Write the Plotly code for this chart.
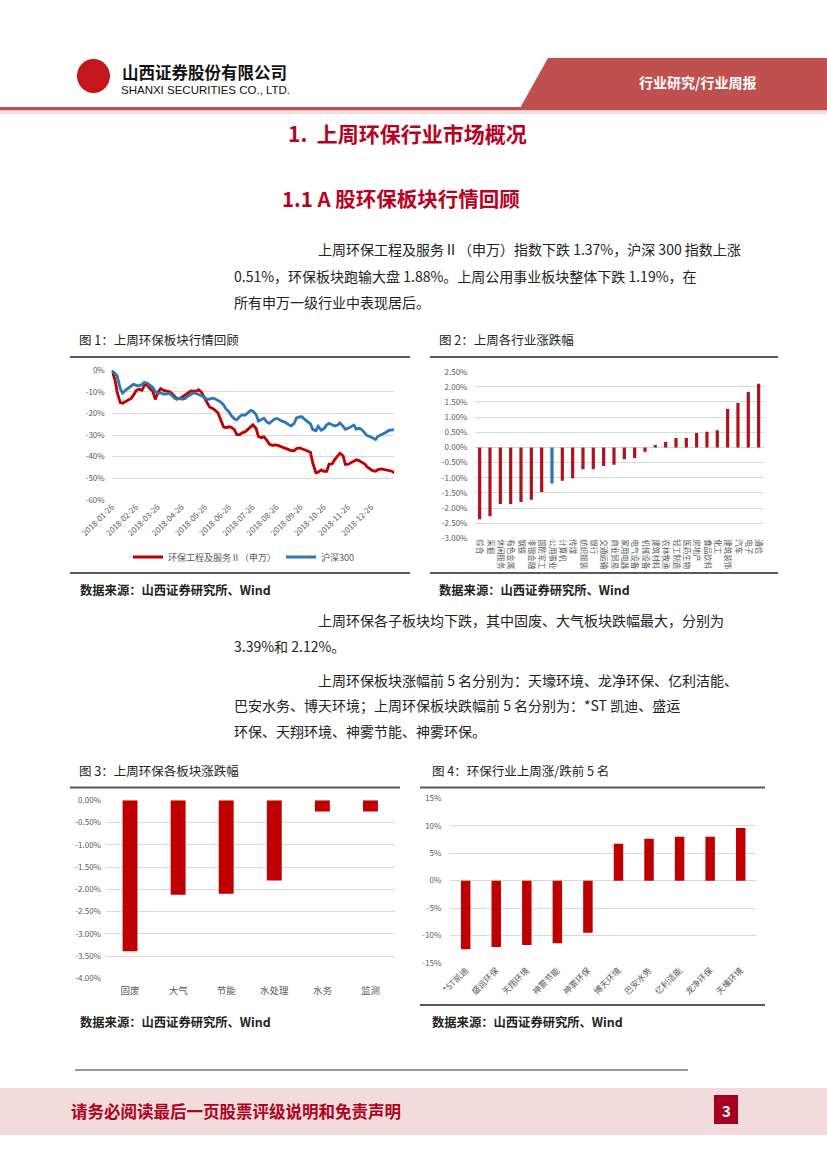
import plotly.graph_objects as go
import pandas as pd

W, H = 827, 1169
def X(p): return p / W
def Y(p): return 1 - p / H

# ---------------- Chart 1 data (semi-weekly samples) ----------------
line_dates = sorted(pd.date_range('2018-01-26', '2019-01-25', freq='W-FRI').union(
    pd.date_range('2018-01-26', '2019-01-25', freq='W-TUE')))
env_index = [0, -4, -10, -15, -15.3, -14.4, -14, -13, -11.5, -9.2, -8.8, -9.3, -7, -6.8, -8.5, -9.7,
             -13.5, -10, -8.5, -9.3, -9.5, -9.8, -10.6, -12.4, -13.2, -13, -12.3, -11.5, -10.6, -9.6,
             -9.7, -9.7, -9, -10.3, -12.5, -15.5, -17, -17.7, -18.4, -19.8, -23, -26.2, -26.6, -26.2,
             -26.4, -27.5, -29.8, -29.8, -29, -28.5, -27.5, -26, -25.3,
             -27, -30.7, -31.3, -30.8, -32.5, -34.2, -34.9, -34.6, -34.8, -35.3, -35.8, -36.3, -36.8,
             -37.2, -37.3, -36.3, -36, -36.4, -37, -37.6, -38, -43, -47.5, -47.2, -46.2, -46.8, -46.8,
             -43.5, -43.4, -41.5, -39.6, -38.4, -39.6, -43.7, -43.5, -43, -42, -41.5, -42, -42.5, -43.5,
             -44.8, -46, -46.5, -46.8, -46, -45.7, -45.9, -46, -46.4, -46.8, -47.6]
hs300 = [0, -1.5, -2.5, -8.5, -10.5, -9.2, -8.3, -7.4, -6.5, -7, -7.2, -6.6, -5.6, -6, -6.8, -8,
         -9.8, -10.8, -10.5, -11, -11, -10.6, -11.5, -13, -13.4, -13, -13.4, -13, -12, -11.3, -10.5,
         -10.8, -11.2, -11.8, -12.4, -13.6, -13.3, -12.9, -13.2, -13.8, -14.6, -16, -17.8, -19.2, -21,
         -22.5, -23, -21.4, -20.7, -20.8, -20, -18.6, -19,
         -20.5, -23.5, -22.7, -22.2, -24, -24.6, -23.4, -22.5, -22.4, -23.2, -23.8, -24.2, -25.2,
         -25.8, -24.6, -22.1, -21.6, -21.5, -22.9, -23.8, -24.8, -27.5, -28, -26, -27.8, -27.2, -25.3,
         -24.6, -25.2, -25.8, -25.4, -24.4, -26, -27.4, -26.8, -26.3, -25.4, -27.3, -26.9, -27.5,
         -29.4, -30.3, -30.8, -31.5, -32.1, -30.6, -30, -29.4, -28.6, -27.8, -27.8, -27.5]
c1_ticks = ['2018-01-26', '2018-02-26', '2018-03-26', '2018-04-26', '2018-05-26', '2018-06-26',
            '2018-07-26', '2018-08-26', '2018-09-26', '2018-10-26', '2018-11-26', '2018-12-26']
c1_yticks = [0, -10, -20, -30, -40, -50, -60]

# ---------------- Chart 2 data ----------------
ind_names = ['综合', '采掘', '休闲服务', '有色金属', '钢铁', '非银金融', '国防军工', '公用事业',
             '计算机', '传媒', '纺织服装', '银行', '交通运输', '商业贸易', '家用电器', '电气设备',
             '机械设备', '建筑材料', '农林牧渔', '轻工制造', '医药生物', '房地产', '食品饮料', '化工',
             '建筑装饰', '汽车', '电子', '通信']
ind_chg = [-2.37, -2.27, -1.87, -1.87, -1.80, -1.73, -1.47, -1.19, -1.10, -1.02, -0.72, -0.72,
           -0.61, -0.57, -0.39, -0.35, -0.14, 0.08, 0.18, 0.31, 0.31, 0.48, 0.52, 0.57, 1.27, 1.47,
           1.83, 2.10]
c2_yticks = [2.5, 2.0, 1.5, 1.0, 0.5, 0.0, -0.5, -1.0, -1.5, -2.0, -2.5, -3.0]

# ---------------- Chart 3 data ----------------
sub_names = ['固废', '大气', '节能', '水处理', '水务', '监测']
sub_chg = [-3.39, -2.12, -2.10, -1.80, -0.25, -0.25]
c3_yticks = [0, -0.5, -1.0, -1.5, -2.0, -2.5, -3.0, -3.5, -4.0]

# ---------------- Chart 4 data ----------------
stock_names = ['*ST凯迪', '盛运环保', '天翔环境', '神雾节能', '神雾环保',
               '博天环境', '巴安水务', '亿利洁能', '龙净环保', '天壕环境']
stock_chg = [-12.5, -12.1, -11.7, -11.4, -9.5, 6.7, 7.65, 8.0, 8.0, 9.6]
c4_yticks = [15, 10, 5, 0, -5, -10, -15]

RED = '#C00000'
BLUE = '#2E75B6'
GRID = '#D9D9D9'
TICK = '#595959'
FONT = 'Noto Sans CJK SC'

fig = go.Figure()

fig.add_trace(go.Scatter(x=line_dates, y=env_index, mode='lines', name='环保工程及服务Ⅱ（申万）',
                         line=dict(color=RED, width=2.8), xaxis='x', yaxis='y', cliponaxis=False))
fig.add_trace(go.Scatter(x=line_dates, y=hs300, mode='lines', name='沪深300',
                         line=dict(color=BLUE, width=2.8), xaxis='x', yaxis='y', cliponaxis=False))

fig.add_trace(go.Bar(x=ind_names, y=ind_chg, xaxis='x2', yaxis='y2', showlegend=False,
                     marker=dict(color=[BLUE if n == '公用事业' else '#B0121B' for n in ind_names],
                                 line=dict(width=0))))
fig.add_trace(go.Bar(x=sub_names, y=sub_chg, xaxis='x3', yaxis='y3', showlegend=False,
                     marker=dict(color=RED, line=dict(width=0))))
fig.add_trace(go.Bar(x=stock_names, y=stock_chg, xaxis='x4', yaxis='y4', showlegend=False,
                     marker=dict(color=RED, line=dict(width=0))))

axis_common = dict(showline=False, zeroline=False, ticks='', automargin=False,
                   tickfont=dict(size=8, color=TICK, family=FONT))

layout = dict(
    template='none',
    width=W, height=H, margin=dict(l=0, r=0, t=0, b=0, pad=0, autoexpand=False),
    paper_bgcolor='white', plot_bgcolor='rgba(0,0,0,0)',
    font=dict(family=FONT, color='#222222'),
    bargap=0.69,
    showlegend=True,
    legend=dict(orientation='h', x=X(128), y=Y(557), xanchor='left', yanchor='middle',
                font=dict(size=9, color=TICK, family=FONT), bgcolor='rgba(0,0,0,0)',
                itemwidth=30, tracegroupgap=0),
    xaxis=dict(domain=[X(111.7), X(394.3)], type='date', range=['2018-01-26', '2019-01-25'],
               tickvals=c1_ticks, ticktext=c1_ticks, tickangle=-45, showgrid=False, anchor='y',
               **axis_common),
    yaxis=dict(domain=[Y(499.7), Y(370.3)], range=[-60, 0], tickvals=c1_yticks,
               ticktext=[f'{v}%' for v in c1_yticks], showgrid=True, gridcolor=GRID, gridwidth=1,
               anchor='x', ticklabelstandoff=6, **axis_common),
    xaxis2=dict(domain=[X(474.5), X(763.8)], type='category', tickangle=90, showgrid=False,
                anchor='y2', showline=False, zeroline=False, ticks='', automargin=False,
                tickfont=dict(size=7.5, color=TICK, family=FONT)),
    yaxis2=dict(domain=[Y(538.3), Y(371.7)], range=[-3.0, 2.5], tickvals=c2_yticks,
                ticktext=[f'{v:.2f}%' for v in c2_yticks], showgrid=True, gridcolor=GRID,
                anchor='x2', ticklabelstandoff=6, **axis_common),
    xaxis3=dict(domain=[X(106), X(394.5)], type='category', showgrid=False, anchor='y3',
                showline=False, zeroline=False, ticks='', automargin=False, ticklabelstandoff=5,
                tickfont=dict(size=9.5, color=TICK, family=FONT)),
    yaxis3=dict(domain=[Y(978.3), Y(800.3)], range=[-4.0, 0], tickvals=c3_yticks,
                ticktext=[f'{v:.2f}%' for v in c3_yticks], showgrid=True, gridcolor=GRID,
                anchor='x3', ticklabelstandoff=4, **axis_common),
    xaxis4=dict(domain=[X(450.4), X(756)], type='category', tickangle=-45, showgrid=False,
                anchor='y4', showline=False, zeroline=False, ticks='', automargin=False,
                tickfont=dict(size=8.5, color=TICK, family=FONT)),
    yaxis4=dict(domain=[Y(963), Y(798.3)], range=[-15, 15], tickvals=c4_yticks,
                ticktext=[f'{v}%' for v in c4_yticks], showgrid=True, gridcolor=GRID,
                anchor='x4', ticklabelstandoff=8, **axis_common),
)
fig.update_layout(**layout)

shapes = []
def rect(x0, y0, x1, y1, color, line=None):
    shapes.append(dict(type='rect', xref='paper', yref='paper', x0=X(x0), x1=X(x1), y0=Y(y1), y1=Y(y0),
                       fillcolor=color, line=dict(width=0) if line is None else line, layer='below'))
def hline(x0, x1, y, color, width):
    shapes.append(dict(type='line', xref='paper', yref='paper', x0=X(x0), x1=X(x1), y0=Y(y), y1=Y(y),
                       line=dict(color=color, width=width)))

# header band
shapes.append(dict(type='path', xref='paper', yref='paper', fillcolor='#C0504F', line=dict(width=0),
                   path=f'M {X(548)},{Y(58)} L {X(827)},{Y(58)} L {X(827)},{Y(108)} L {X(520)},{Y(108)} Z'))
rect(0, 107, 827, 110.5, '#C0504F')
rect(0, 110.5, 827, 114, '#F2DCDB')
# logo
shapes.append(dict(type='circle', xref='paper', yref='paper', x0=X(77), x1=X(110), y0=Y(93), y1=Y(59),
                   fillcolor='#C4161C', line=dict(width=0)))
rect(83, 64, 104, 89, 'white')
rect(86, 67, 101, 86, '#C4161C')
rect(89, 71, 98, 82, 'white')
rect(91.5, 74, 95.5, 79, '#C4161C')
# chart frames
hline(70, 410, 357, '#595959', 2)
hline(70, 410, 573, '#595959', 2)
hline(430, 778, 357, '#595959', 2)
hline(430, 778, 573, '#595959', 2)
hline(70, 400, 787.5, '#595959', 2)
hline(420, 765, 787.5, '#595959', 2)
hline(420, 765, 1005, '#595959', 2)
# bottom rule
hline(75, 688, 1070, '#333333', 1)
# footer
rect(0, 1088, 827, 1135, '#F2DCDB')
rect(714, 1095, 738, 1124, '#A50021')
fig.update_layout(shapes=shapes)

ann = []
def text(x, y, s, size, color='#222222', anchor='left', bold=False, family=FONT):
    if bold:
        s = f'<b>{s}</b>'
    ann.append(dict(xref='paper', yref='paper', x=X(x), y=Y(y), text=s, showarrow=False,
                    xanchor=anchor, yanchor='middle', font=dict(size=size, color=color, family=family)))

text(120, 72, '山西证券股份有限公司', 16.5, '#111111', bold=True)
text(119, 89.5, 'SHANXI SECURITIES CO., LTD.', 11.5, '#111111', family='Liberation Sans')
text(697, 82, '行业研究/行业周报', 14, 'white', 'center', bold=True)

text(407, 133, '1.  上周环保行业市场概况', 21, '#B8001F', 'center', bold=True)
text(401, 198, '1.1 A 股环保板块行情回顾', 20.5, '#B8001F', 'center', bold=True)

body = 14
text(316, 249, '上周环保工程及服务Ⅱ（申万）指数下跌 1.37%，沪深 300 指数上涨', body)
text(232, 276, '0.51%，环保板块跑输大盘 1.88%。上周公用事业板块整体下跌 1.19%，在', body)
text(232, 302, '所有申万一级行业中表现居后。', body)

text(77, 340, '图 1：上周环保板块行情回顾', 12.5)
text(437, 340, '图 2：上周各行业涨跌幅', 12.5)
text(78, 590, '数据来源：山西证券研究所、Wind', 12.3, bold=True)
text(437, 590, '数据来源：山西证券研究所、Wind', 12.3, bold=True)

text(316, 620, '上周环保各子板块均下跌，其中固废、大气板块跌幅最大，分别为', body)
text(232, 646, '3.39%和 2.12%。', body)
text(316, 680, '上周环保板块涨幅前 5 名分别为：天壕环境、龙净环保、亿利洁能、', body)
text(232, 705, '巴安水务、博天环境；上周环保板块跌幅前 5 名分别为：*ST 凯迪、盛运', body)
text(232, 731, '环保、天翔环境、神雾节能、神雾环保。', body)

text(77, 771, '图 3：上周环保各板块涨跌幅', 12.5)
text(430, 771, '图 4：环保行业上周涨/跌前 5 名', 12.5)
text(78, 1022, '数据来源：山西证券研究所、Wind', 12.3, bold=True)
text(430, 1022, '数据来源：山西证券研究所、Wind', 12.3, bold=True)

text(69, 1111, '请务必阅读最后一页股票评级说明和免责声明', 16.5, '#B00020', bold=True)
text(726, 1110, '3', 15, 'white', 'center', bold=True)
fig.update_layout(annotations=ann)

fig.write_html('out.html', config={'displayModeBar': False},
               post_script="document.body.style.margin='0';document.body.style.padding='0';"
                           "document.documentElement.style.margin='0';")
